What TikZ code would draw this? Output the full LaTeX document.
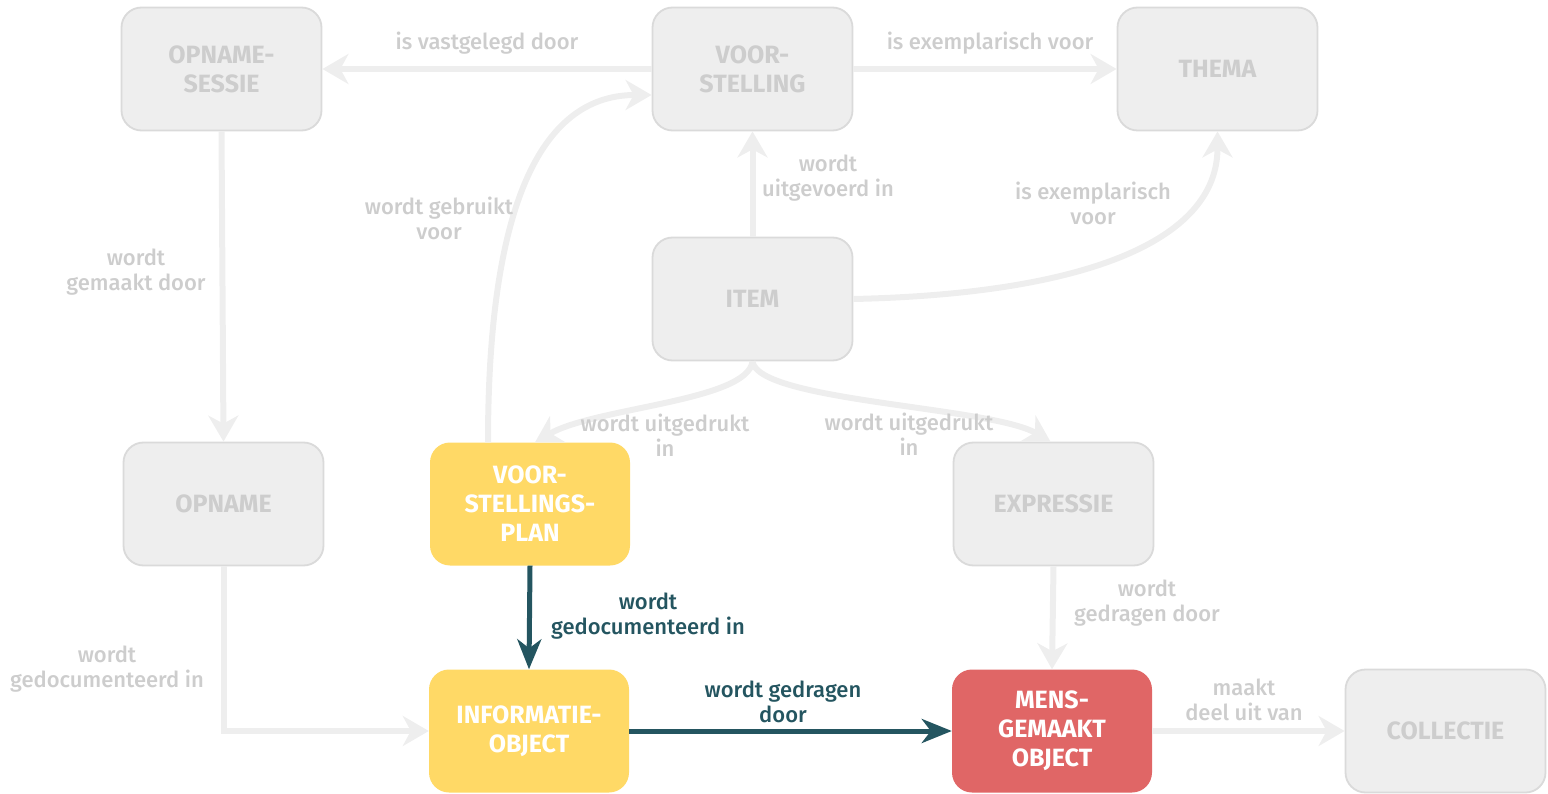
\documentclass[tikz,border=0pt]{standalone}
\usepackage{fontspec}
\setmainfont{Fira Sans}
\newfontfamily\labelfont{Fira Sans Medium}
\usetikzlibrary{arrows.meta}
\definecolor{boxgray}{HTML}{EEEEEE}
\definecolor{linegray}{HTML}{DADADA}
\definecolor{textgray}{HTML}{CDCDCD}
\definecolor{arrowgray}{HTML}{EEEEEE}
\definecolor{planyellow}{HTML}{FFD966}
\definecolor{objred}{HTML}{E06666}
\definecolor{darkteal}{HTML}{245560}
\begin{document}
\begin{tikzpicture}[x=1pt,y=-1pt,
	box/.style={rounded corners=20pt,minimum width=200pt,minimum height=123pt,
		align=center,font=\fontsize{25}{29}\selectfont\bfseries,inner sep=0pt},
	greybox/.style={box,fill=boxgray,draw=linegray,line width=1.8pt,text=textgray},
	colbox/.style={box,text=white},
	greyline/.style={draw=arrowgray,line width=6pt,-{Stealth[length=26pt,width=30pt,inset=8pt]}},
	darkline/.style={draw=darkteal,line width=5pt,-{Stealth[length=30pt,width=24pt,inset=9pt]}},
	lbl/.style={align=center,font=\labelfont\fontsize{22}{25}\selectfont,text=textgray,inner sep=0pt},
	darklbl/.style={lbl,text=darkteal}]
\useasboundingbox (0,0) rectangle (1548,794);
% upper row
\node [greybox] (sessie) at (221.5,69) {OPNAME-\\SESSIE};
\node [greybox] (vst) at (752.5,69) {VOOR-\\STELLING};
\node [greybox] (thema) at (1217.5,69) {THEMA};
\node [greybox] (item) at (752.5,299) {ITEM};
% middle row
\node [greybox] (opname) at (223.5,504) {OPNAME};
\node [colbox,fill=planyellow] (vplan) at (530,504) {VOOR-\\STELLINGS-\\PLAN};
\node [greybox] (expr) at (1053.5,504) {EXPRESSIE};
% lower row
\node [colbox,fill=planyellow] (infobj) at (529,731) {INFORMATIE-\\OBJECT};
\node [colbox,fill=objred] (mobj) at (1052,731) {MENS-\\GEMAAKT\\OBJECT};
\node [greybox] (coll) at (1445.5,731) {COLLECTIE};
% grey connectors
\draw [greyline] (vst.west) -- (sessie.east);
\draw [greyline] (vst.east) -- (thema.west);
\draw [greyline] (sessie.south) -- (opname.north);
\draw [greyline] (item.north) -- (vst.south);
\draw [greyline] (item.east) .. controls +(230,-5) and +(0,110) .. (thema.south);
\draw [greyline] ([xshift=-42pt]vplan.north) .. controls +(0,-260) and +(-100,0) .. ([yshift=-26pt]vst.west);
\draw [greyline] (item.south) .. controls +(-5,40) and +(60,-35) .. ([xshift=5pt]vplan.north);
\draw [greyline] (item.south) .. controls +(5,40) and +(-60,-35) .. ([xshift=-3pt]expr.north);
\draw [greyline] (opname.south) |- (infobj.west);
\draw [greyline] (expr.south) -- (mobj.north);
\draw [greyline] (mobj.east) -- (coll.west);
% highlighted connectors
\draw [darkline] (vplan.south) -- (infobj.north);
\draw [darkline] (infobj.east) -- (mobj.west);
% labels
\node [lbl] (l1) at (487,43) {is vastgelegd door};
\node [lbl] (l2) at (990,43) {is exemplarisch voor};
\node [lbl] (l3) at (136,272) {wordt\\gemaakt door};
\node [lbl] (l4) at (828,178) {wordt\\uitgevoerd in};
\node [lbl] (l5) at (1093,203) {is exemplarisch\\voor};
\node [lbl] (l6) at (439,218) {wordt gebruikt\\voor};
\node [lbl] (l7) at (665,435) {wordt uitgedrukt\\in};
\node [lbl] (l8) at (909,434) {wordt uitgedrukt\\in};
\node [lbl] (l9) at (107,669) {wordt\\gedocumenteerd in};
\node [lbl] (l10) at (1147,603) {wordt\\gedragen door};
\node [lbl] (l11) at (1244,700) {maakt\\deel uit van};
\node [darklbl] (l12) at (648,616) {wordt\\gedocumenteerd in};
\node [darklbl] (l13) at (783,702) {wordt gedragen\\door};
\end{tikzpicture}
\end{document}
